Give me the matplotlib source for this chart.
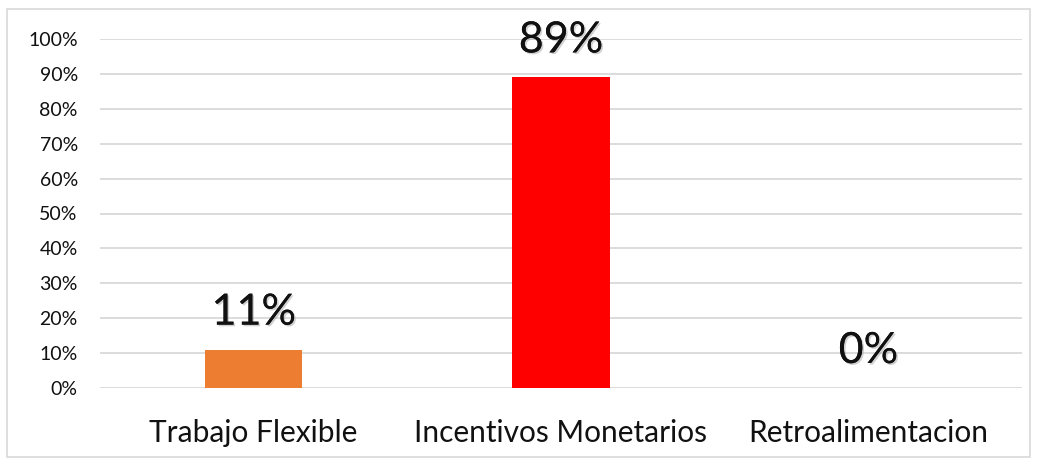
import matplotlib
matplotlib.use("Agg")
import matplotlib.pyplot as plt
import matplotlib.patheffects as pe
from matplotlib.patches import Rectangle
from matplotlib.ticker import PercentFormatter

categories = ["Trabajo Flexible", "Incentivos Monetarios", "Retroalimentacion"]
values = [0.11, 0.89, 0.0]
labels = ["11%", "89%", "0%"]
colors = ["#ED7D31", "#FF0000", "#A5A5A5"]
yticks = [0, 0.1, 0.2, 0.3, 0.4, 0.5, 0.6, 0.7, 0.8, 0.9, 1.0]

plt.rcParams['font.family'] = ['Lato', 'DejaVu Sans']

fig = plt.figure(figsize=(10.39, 4.58), dpi=100)
ax = fig.add_axes([100/1039, 1-388/458, 922/1039, (388-39)/458])

x = range(len(categories))
ax.bar(x, values, width=0.316, color=colors, zorder=3)
ax.set_xlim(-0.5, 2.5)
ax.set_ylim(0, 1.0)
ax.set_yticks(yticks)
ax.yaxis.set_major_formatter(PercentFormatter(1.0, decimals=0))
ax.grid(axis='y', color='#D9D9D9', linewidth=1.3, zorder=0)
ax.set_axisbelow(True)
for s in ax.spines.values():
    s.set_visible(False)
ax.tick_params(axis='both', length=0)
ax.tick_params(axis='y', labelsize=14, pad=16, labelcolor='#111111')
ax.set_xticks(list(x))
ax.set_xticklabels(categories, fontsize=21.5, color='#111111')
ax.tick_params(axis='x', pad=22)

for xi, v, lab in zip(x, values, labels):
    ax.annotate(lab, (xi, v), xytext=(0, 25), textcoords='offset pixels',
                ha='center', va='baseline', fontsize=31, color='#111111',
                path_effects=[pe.withSimplePatchShadow(offset=(1.2, -1.2), shadow_rgbFace='#999999', alpha=0.45), pe.Normal()],
                zorder=5)

fig.patches.append(Rectangle((7/1039, 0.003), 1023/1039, 1-9.5/458-0.003, transform=fig.transFigure,
                             fill=False, edgecolor='#D9D9D9', linewidth=1.2))

fig.savefig("out.png", dpi=100)
